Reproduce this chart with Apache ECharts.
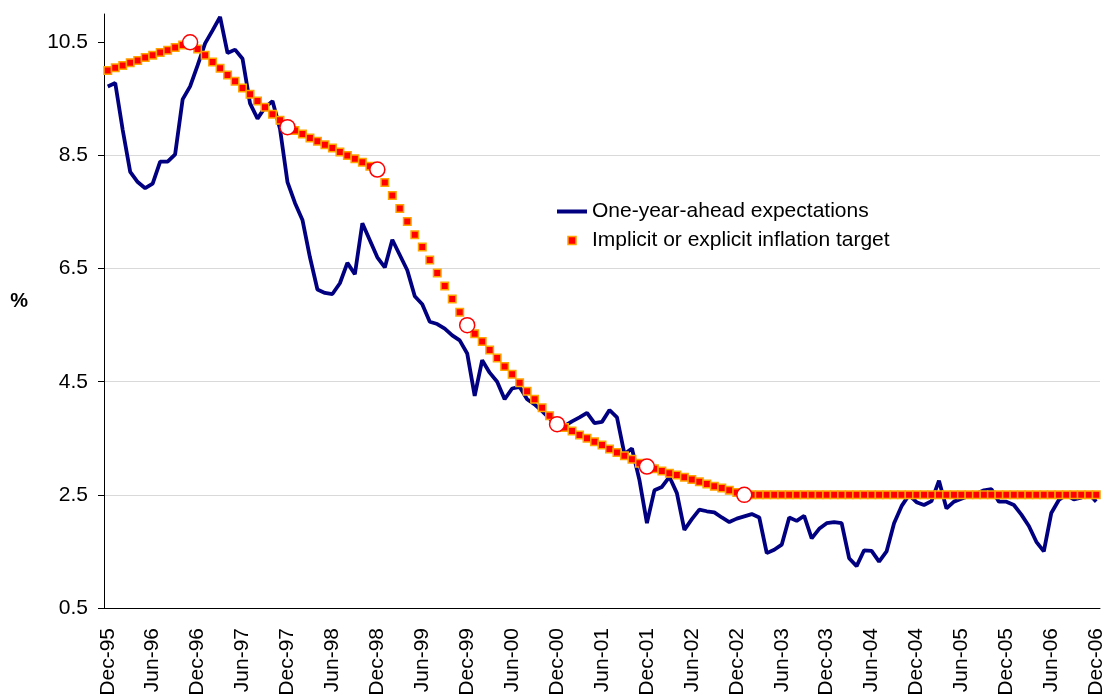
<!DOCTYPE html>
<html>
<head>
<meta charset="utf-8">
<script src="https://cdn.jsdelivr.net/npm/echarts@6/dist/echarts.min.js"></script>
<style>
  html, body { margin: 0; padding: 0; background: #fff; }
  #chart { width: 1104px; height: 697px; }
</style>
</head>
<body>
<div id="chart"></div>
<script>
// monthly, Dec-95 .. Dec-06
const MONTHS = ['Jan', 'Feb', 'Mar', 'Apr', 'May', 'Jun', 'Jul', 'Aug', 'Sep', 'Oct', 'Nov', 'Dec'];

const expectations = [
  9.72, 9.78, 8.95, 8.21, 8.03, 7.92, 8.00, 8.39, 8.39, 8.52, 9.49, 9.72,
  10.09, 10.48, 10.71, 10.95, 10.31, 10.37, 10.21, 9.42, 9.15, 9.35, 9.46, 8.97,
  8.03, 7.66, 7.36, 6.70, 6.13, 6.07, 6.05, 6.24, 6.60, 6.40, 7.30, 7.00,
  6.70, 6.52, 7.01, 6.74, 6.47, 6.01, 5.87, 5.56, 5.52, 5.44, 5.32, 5.23,
  5.00, 4.25, 4.88, 4.66, 4.50, 4.19, 4.38, 4.41, 4.19, 4.10, 3.98, 3.85,
  3.72, 3.72, 3.80, 3.87, 3.95, 3.77, 3.79, 4.00, 3.87, 3.22, 3.32, 2.76,
  2.00, 2.58, 2.64, 2.82, 2.53, 1.88, 2.07, 2.24, 2.21, 2.19, 2.10, 2.02,
  2.08, 2.12, 2.16, 2.10, 1.47, 1.53, 1.62, 2.10, 2.04, 2.13, 1.73, 1.90,
  2.00, 2.02, 2.00, 1.38, 1.24, 1.52, 1.51, 1.32, 1.50, 2.00, 2.30, 2.50,
  2.37, 2.32, 2.39, 2.75, 2.26, 2.38, 2.43, 2.48, 2.52, 2.58, 2.60, 2.38,
  2.38, 2.32, 2.15, 1.95, 1.67, 1.50, 2.18, 2.41, 2.50, 2.42, 2.45, 2.52,
  2.38
];

const target = [
  10.00, 10.05, 10.09, 10.14, 10.18, 10.23, 10.27, 10.32, 10.36, 10.41, 10.45, 10.50,
  10.38, 10.27, 10.15, 10.04, 9.92, 9.81, 9.69, 9.58, 9.46, 9.35, 9.23, 9.12, 9.00,
  8.94, 8.88, 8.81, 8.75, 8.69, 8.63, 8.56, 8.50, 8.44, 8.38, 8.31, 8.25,
  8.02, 7.79, 7.56, 7.33, 7.10, 6.88, 6.65, 6.42, 6.19, 5.96, 5.73, 5.50,
  5.35, 5.21, 5.06, 4.92, 4.77, 4.63, 4.48, 4.33, 4.19, 4.04, 3.90, 3.75,
  3.69, 3.63, 3.56, 3.50, 3.44, 3.38, 3.31, 3.25, 3.19, 3.13, 3.06, 3.00,
  2.96, 2.92, 2.88, 2.85, 2.81, 2.77, 2.73, 2.69, 2.65, 2.62, 2.58, 2.54, 2.50,
  2.50, 2.50, 2.50, 2.50, 2.50, 2.50, 2.50, 2.50, 2.50, 2.50, 2.50, 2.50,
  2.50, 2.50, 2.50, 2.50, 2.50, 2.50, 2.50, 2.50, 2.50, 2.50, 2.50, 2.50,
  2.50, 2.50, 2.50, 2.50, 2.50, 2.50, 2.50, 2.50, 2.50, 2.50, 2.50, 2.50,
  2.50, 2.50, 2.50, 2.50, 2.50, 2.50, 2.50, 2.50, 2.50, 2.50, 2.50
];

// months where the target path changes (hollow circles)
const targetNodes = [11, 24, 36, 48, 60, 72, 85];

const yTicks = [0.5, 2.5, 4.5, 6.5, 8.5, 10.5];

const categories = [];
for (let i = 0; i < expectations.length; i++) {
  const m = (11 + i) % 12;
  const y = (95 + Math.floor((11 + i) / 12)) % 100;
  categories.push(MONTHS[m] + '-' + String(y).padStart(2, '0'));
}

const nodeData = target.map((v, i) => (targetNodes.includes(i) ? v : null));

const chart = echarts.init(document.getElementById('chart'), null, { renderer: 'canvas' });

const FONT = 'Liberation Sans, Arial, sans-serif';

const option = {
  animation: false,
  backgroundColor: '#fff',
  textStyle: { fontFamily: FONT, color: '#000' },
  grid: { left: 104, right: 4, top: 14, bottom: 89, outerBoundsMode: 'none' },
  legend: {
    orient: 'vertical',
    left: 552,
    top: 196,
    itemWidth: 30,
    itemHeight: 8,
    itemGap: 8,
    selectedMode: false,
    textStyle: { fontSize: 21, color: '#000', fontFamily: FONT },
    data: [
      {
        name: 'One-year-ahead expectations',
        icon: 'path://M0,0H30V4H0Z',
        itemStyle: { color: '#000080', borderWidth: 0 },
      },
      {
        name: 'Implicit or explicit inflation target',
        icon: 'path://M0,0H10V10H0Z',
        itemStyle: { color: '#FF0000', borderColor: '#FFA500', borderWidth: 1.5 },
      },
    ],
  },
  xAxis: {
    type: 'category',
    boundaryGap: true,
    data: categories,
    axisLine: { lineStyle: { color: '#000', width: 1 } },
    axisTick: { interval: 5, length: 5, alignWithLabel: false, lineStyle: { color: '#000' } },
    axisLabel: { interval: 5, rotate: 90, fontSize: 21, margin: 20, color: '#000', fontFamily: FONT },
    splitLine: { show: false },
  },
  yAxis: {
    type: 'value',
    min: 0.5,
    max: 11,
    interval: 2,
    name: '%',
    nameLocation: 'middle',
    nameRotate: 0,
    nameGap: 76,
    nameTextStyle: { fontSize: 20, fontWeight: 'bold', color: '#000', fontFamily: FONT, verticalAlign: 'bottom' },
    axisLine: { show: true, lineStyle: { color: '#000', width: 1 } },
    axisTick: { show: true, length: 6, customValues: yTicks, lineStyle: { color: '#000' } },
    axisLabel: {
      customValues: yTicks,
      fontSize: 21,
      margin: 16,
      color: '#000',
      fontFamily: FONT,
      formatter: (v) => v.toFixed(1),
    },
    splitLine: { show: true, showMinLine: false, showMaxLine: false, lineStyle: { color: '#D9D9D9', width: 1 } },
  },
  series: [
    {
      name: 'One-year-ahead expectations',
      type: 'line',
      data: expectations,
      showSymbol: false,
      lineStyle: { color: '#000080', width: 3.8 },
      itemStyle: { color: '#000080' },
      emphasis: { disabled: true },
      z: 2,
    },
    {
      name: 'Implicit or explicit inflation target',
      type: 'line',
      data: target,
      symbol: 'rect',
      symbolSize: 7.5,
      showAllSymbol: true,
      lineStyle: { width: 0, opacity: 0 },
      itemStyle: { color: '#FF0000', borderColor: '#FFA500', borderWidth: 1.5 },
      emphasis: { disabled: true },
      z: 3,
    },
    {
      name: 'Target nodes',
      type: 'line',
      data: nodeData,
      symbol: 'circle',
      symbolSize: 15,
      showAllSymbol: true,
      lineStyle: { width: 0, opacity: 0 },
      itemStyle: { color: '#FFFFFF', borderColor: '#FF0000', borderWidth: 1.5 },
      emphasis: { disabled: true },
      z: 4,
    },
  ],
};

chart.setOption(option);
window.addEventListener('resize', () => chart.resize());
</script>
</body>
</html>
